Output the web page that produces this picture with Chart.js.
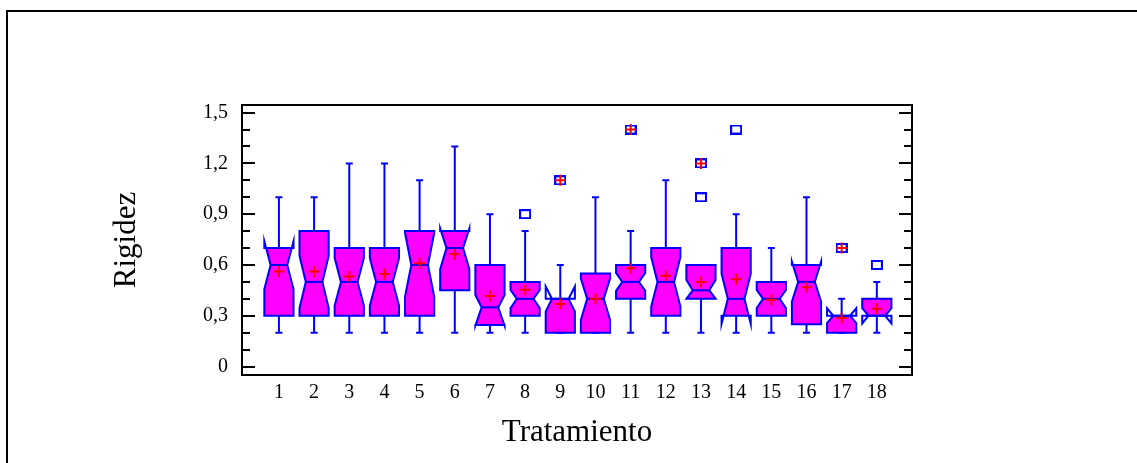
<!DOCTYPE html>
<html>
<head>
<meta charset="utf-8">
<script src="https://cdn.jsdelivr.net/npm/chart.js@4.4.1/dist/chart.umd.min.js"></script>
<style>
  html, body { margin: 0; padding: 0; background: #ffffff; }
  #wrap { position: relative; width: 1137px; height: 463px; overflow: hidden; }
  canvas { display: block; }
</style>
</head>
<body>
<div id="wrap"><canvas id="c" width="1137" height="463"></canvas></div>
<script>
// ---- data ----
const categories   = [1, 2, 3, 4, 5, 6, 7, 8, 9, 10, 11, 12, 13, 14, 15, 16, 17, 18];
const whiskerLow   = [0.2, 0.2, 0.2, 0.2, 0.2, 0.2, 0.2, 0.2, 0.2, 0.2, 0.2, 0.2, 0.2, 0.2, 0.2, 0.2, 0.2, 0.2];
const quartile1    = [0.3, 0.3, 0.3, 0.3, 0.3, 0.45, 0.245, 0.3, 0.2, 0.2, 0.4, 0.3, 0.4, 0.3, 0.3, 0.25, 0.2, 0.3];
const medians      = [0.6, 0.5, 0.5, 0.5, 0.6, 0.7, 0.35, 0.4, 0.4, 0.4, 0.5, 0.5, 0.45, 0.4, 0.4, 0.5, 0.3, 0.3];
const quartile3    = [0.7, 0.8, 0.7, 0.7, 0.8, 0.8, 0.6, 0.5, 0.4, 0.55, 0.6, 0.7, 0.6, 0.7, 0.5, 0.6, 0.3, 0.4];
const whiskerHigh  = [1.0, 1.0, 1.2, 1.2, 1.1, 1.3, 0.9, 0.8, 0.6, 1.0, 0.8, 1.1, 0.6, 0.9, 0.7, 1.0, 0.4, 0.5];
const notchLow     = [0.457, 0.345, 0.36, 0.36, 0.413, 0.575, 0.242, 0.345, 0.325, 0.276, 0.447, 0.354, 0.4, 0.252, 0.345, 0.384, 0.256, 0.255];
const notchHigh    = [0.74, 0.655, 0.64, 0.64, 0.79, 0.816, 0.423, 0.452, 0.473, 0.52, 0.553, 0.646, 0.512, 0.548, 0.452, 0.62, 0.344, 0.345];
const means        = [0.561, 0.561, 0.532, 0.546, 0.61, 0.664, 0.417, 0.453, 0.37, 0.40, 0.581, 0.537, 0.5, 0.516, 0.394, 0.469, 0.286, 0.341];
const outlierCat   = [8, 9, 11, 13, 13, 14, 17, 18];
const outlierVal   = [0.9, 1.1, 1.4, 1.0, 1.2, 1.4, 0.7, 0.6];
const outlierFar   = [false, true, true, false, true, false, true, false];
const yTickValues  = [0, 0.3, 0.6, 0.9, 1.2, 1.5];
const yMinorValues = [0.1, 0.2, 0.4, 0.5, 0.7, 0.8, 1.0, 1.1, 1.3, 1.4];
const xTitle = 'Tratamiento';
const yTitle = 'Rigidez';

// ---- styles ----
const BLUE = '#0000FF', MAGENTA = '#FF00FF', RED = '#FF0000';
const FONT = "'Liberation Serif', 'Times New Roman', serif";
const BOX_HALF = 0.415;      // in category units
const NARROW = 0.57;         // notch waist relative to box width

// outlier marker (open rectangle)
const outlierMark = document.createElement('canvas');
outlierMark.width = 12; outlierMark.height = 10;
(function () {
  const g = outlierMark.getContext('2d');
  g.fillStyle = '#ffffff'; g.fillRect(1, 1, 10, 8);
  g.strokeStyle = BLUE; g.lineWidth = 2; g.strokeRect(1, 1, 10, 8);
})();

const boxPlugin = {
  id: 'notchedBoxes',
  beforeDraw(chart) {
    const c = chart.ctx;
    c.save();
    c.strokeStyle = '#000'; c.lineWidth = 2;
    c.beginPath();
    c.moveTo(7, 463); c.lineTo(7, 11); c.lineTo(1137, 11);
    c.stroke();
    c.restore();
  },
  beforeDatasetsDraw(chart) {
    const c = chart.ctx, xs = chart.scales.x, ys = chart.scales.y;
    c.save();
    c.lineJoin = 'miter';
    categories.forEach((cat, i) => {
      const xc = xs.getPixelForValue(cat);
      const xl = xs.getPixelForValue(cat - BOX_HALF), xr = xs.getPixelForValue(cat + BOX_HALF);
      const hw = (xr - xl) / 2;
      const xnl = xc - hw * NARROW, xnr = xc + hw * NARROW;
      const yLo = ys.getPixelForValue(whiskerLow[i]), yHi = ys.getPixelForValue(whiskerHigh[i]);
      const yQ1 = ys.getPixelForValue(quartile1[i]), yQ3 = ys.getPixelForValue(quartile3[i]);
      const yMed = ys.getPixelForValue(medians[i]);
      const yNl = ys.getPixelForValue(notchLow[i]), yNh = ys.getPixelForValue(notchHigh[i]);
      // whiskers
      c.strokeStyle = BLUE; c.lineWidth = 2;
      c.beginPath();
      c.moveTo(xc, yQ3); c.lineTo(xc, yHi);
      c.moveTo(xc - 3.5, yHi); c.lineTo(xc + 3.5, yHi);
      c.moveTo(xc, yQ1); c.lineTo(xc, yLo);
      c.moveTo(xc - 3.5, yLo); c.lineTo(xc + 3.5, yLo);
      c.stroke();
      // box outline path
      const path = new Path2D();
      path.moveTo(xl, yQ1); path.lineTo(xl, yNl); path.lineTo(xnl, yMed); path.lineTo(xl, yNh); path.lineTo(xl, yQ3);
      path.lineTo(xr, yQ3); path.lineTo(xr, yNh); path.lineTo(xnr, yMed); path.lineTo(xr, yNl); path.lineTo(xr, yQ1);
      path.closePath();
      c.save();
      c.beginPath(); c.rect(xl, yQ3, xr - xl, yQ1 - yQ3); c.clip();
      c.fillStyle = MAGENTA; c.fill(path);
      c.restore();
      c.strokeStyle = BLUE; c.lineWidth = 2;
      c.stroke(path);
      c.beginPath(); c.moveTo(xnl, yMed); c.lineTo(xnr, yMed); c.stroke();
    });
    c.restore();
  },
  afterDatasetsDraw(chart) {
    const c = chart.ctx, a = chart.chartArea, ys = chart.scales.y;
    c.save();
    c.strokeStyle = '#000'; c.lineWidth = 2;
    c.beginPath();
    const tick = (v, len) => {
      const y = Math.round(ys.getPixelForValue(v));
      c.moveTo(a.left, y); c.lineTo(a.left + len, y);
      c.moveTo(a.right, y); c.lineTo(a.right - len, y);
    };
    yTickValues.forEach(v => tick(v, 13));
    yMinorValues.forEach(v => tick(v, 8));
    c.stroke();
    c.strokeRect(a.left, a.top, a.right - a.left, a.bottom - a.top);
    c.restore();
  }
};

const farPts = outlierCat.map((x, i) => ({ x, y: outlierVal[i], far: outlierFar[i] })).filter(p => p.far);
const outPts = outlierCat.map((x, i) => ({ x, y: outlierVal[i] }));
const meanPts = categories.map((x, i) => ({ x, y: means[i] }));

new Chart(document.getElementById('c'), {
  type: 'scatter',
  data: {
    datasets: [
      { label: 'far', data: farPts, pointStyle: 'cross', pointRadius: 5.5, borderColor: RED, borderWidth: 2, order: 0 },
      { label: 'mean', data: meanPts, pointStyle: 'cross', pointRadius: 5.5, borderColor: RED, borderWidth: 2, order: 1 },
      { label: 'outliers', data: outPts, pointStyle: outlierMark, order: 2 }
    ]
  },
  options: {
    responsive: false,
    animation: false,
    events: [],
    layout: { padding: { left: 100, top: 105, right: 225, bottom: 0 } },
    plugins: { legend: { display: false }, tooltip: { enabled: false } },
    scales: {
      x: {
        type: 'linear', min: -0.05, max: 19,
        afterBuildTicks: s => { s.ticks = categories.map(v => ({ value: v })); },
        afterFit: s => { s.height = 88; },
        grid: { display: false, drawTicks: false },
        border: { display: false },
        ticks: { color: '#000', padding: 6, autoSkip: false, maxRotation: 0, font: { family: FONT, size: 20 },
                 callback: v => String(v) },
        title: { display: true, text: xTitle, color: '#000', font: { family: FONT, size: 31 }, padding: { top: 0, bottom: 12 } }
      },
      y: {
        type: 'linear', min: -0.05, max: 1.545,
        afterBuildTicks: s => { s.ticks = yTickValues.map(v => ({ value: v })); },
        afterFit: s => { s.width = 142; },
        grid: { display: false, drawTicks: false },
        border: { display: false },
        ticks: { color: '#000', padding: 14, font: { family: FONT, size: 20 },
                 callback: v => (Math.round(v * 10) / 10).toString().replace('.', ',') },
        title: { display: true, text: yTitle, color: '#000', font: { family: FONT, size: 31 }, padding: { top: 8, bottom: 0 } }
      }
    }
  },
  plugins: [boxPlugin]
});
</script>
</body>
</html>
